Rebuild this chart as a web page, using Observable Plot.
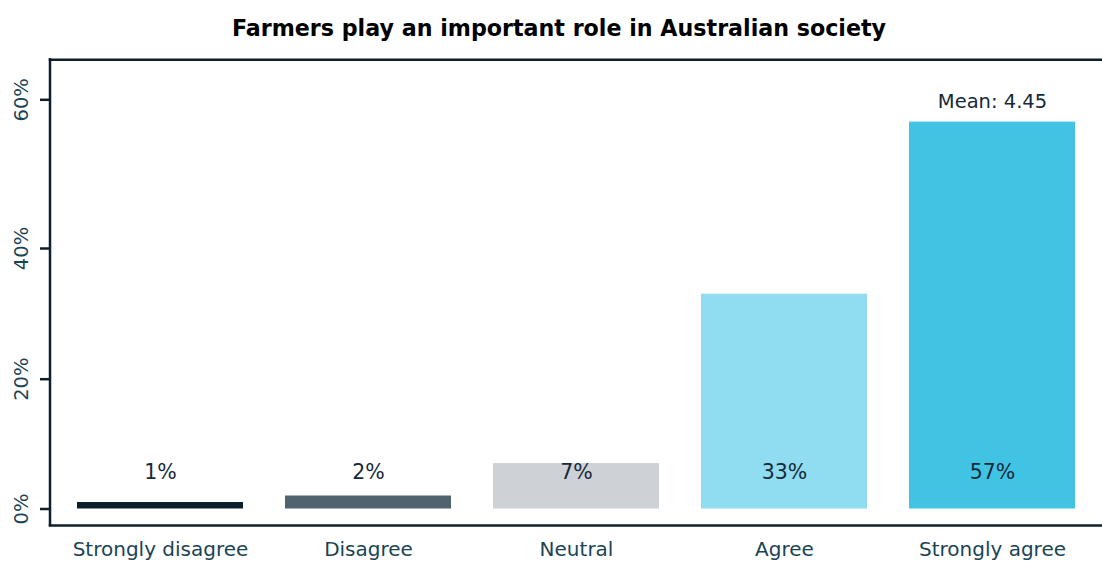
<!DOCTYPE html>
<html><head><meta charset="utf-8">
<script src="https://cdn.jsdelivr.net/npm/d3@7"></script>
<script src="https://cdn.jsdelivr.net/npm/@observablehq/plot@0.6"></script>
<style>
body{margin:0;background:#fff;font-family:"DejaVu Sans",sans-serif;overflow:hidden;}
#title{height:50px;line-height:57px;text-align:center;font-weight:bold;font-size:22.2px;color:#000;white-space:nowrap;padding-left:16px;}
</style></head><body>
<div id="title"></div>
<div id="chart"></div>
<script>
const title = "Farmers play an important role in Australian society";
const categories = ["Strongly disagree", "Disagree", "Neutral", "Agree", "Strongly agree"];
const values = [1, 2, 7, 33, 57];
const colors = ["#0d1f2d", "#526370", "#ced1d6", "#90dcf0", "#41c4e3"];
const yTicks = [0, 20, 40, 60];
const meanLabel = "Mean: 4.45";
const meanCategory = "Strongly agree";

document.getElementById("title").textContent = title;

const data = categories.map((c, i) => ({category: c, value: values[i], color: colors[i]}));
const meanData = [{category: meanCategory, value: values[categories.indexOf(meanCategory)], label: meanLabel}];

const ink = "#0d1f2d";
const textInk = "#1a4454";
const labelInk = "#15293a";
const yMin = -2.54, yMax = 65.4;

const W = 1102, H = 511, mL = 50, mR = 0, mT = 9, mB = 36;
const fw = W - mL - mR;

const chart = Plot.plot({
  width: W,
  height: H,
  marginLeft: mL,
  marginRight: mR,
  marginTop: mT,
  marginBottom: mB,
  style: {fontFamily: "DejaVu Sans, sans-serif", fontSize: "19px", color: textInk, background: "#fff"},
  x: {type: "band", domain: categories, paddingInner: 0.2, paddingOuter: 0.125, label: null},
  y: {type: "linear", domain: [yMin, 0, 20, 40, 60, yMax], range: [475, 458.5, 328.7, 198, 49.3, 9.3], label: null},
  marks: [
    Plot.barY(data, {x: "category", y: "value", fill: "color"}),
    Plot.text(data, {x: "category", y: 0, dy: -37, text: d => d.value + "%", fill: labelInk, fontSize: 20.5}),
    Plot.text(meanData, {x: "category", y: "value", dy: -20, text: "label", fill: labelInk, fontSize: 19.5}),
    Plot.ruleY([yMin, yMax], {stroke: ink, strokeWidth: 2.5, insetLeft: -1.25}),
    Plot.rect([{lo: yMin, hi: yMax}], {y1: "lo", y2: "hi", fill: ink, insetLeft: -1.25, insetRight: fw - 1.25, insetTop: -1.25, insetBottom: -1.25}),
    Plot.axisY(yTicks, {anchor: "left", tickSize: 10, tickFormat: d => d + "%", tickRotate: -90, tickPadding: 13, stroke: ink, strokeWidth: 2.5, fill: textInk, fontSize: 19.5, label: null}),
    Plot.axisX({anchor: "bottom", tickSize: 0, tickPadding: 16, fill: textInk, fontSize: 20, label: null})
  ]
});
document.getElementById("chart").appendChild(chart);
</script>
</body></html>
